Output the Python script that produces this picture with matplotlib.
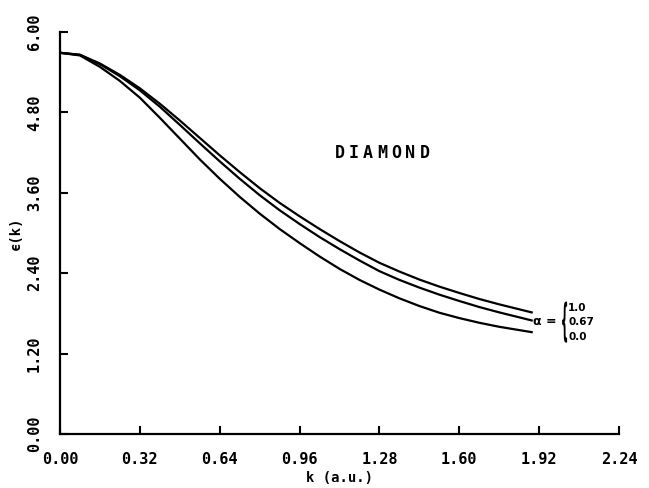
import matplotlib.pyplot as plt
import matplotlib.transforms as mtransforms
from matplotlib.textpath import TextPath
from matplotlib.patches import PathPatch
from matplotlib.font_manager import FontProperties

# k (a.u.) values where the curves were read
k = [0.00, 0.08, 0.16, 0.24, 0.32, 0.40, 0.48, 0.56, 0.64, 0.72, 0.80, 0.88,
     0.96, 1.04, 1.12, 1.20, 1.28, 1.36, 1.44, 1.52, 1.60, 1.68, 1.76, 1.89]

# epsilon(k) for alpha = 1.0, 0.67, 0.0
eps_a10 = [5.69, 5.66, 5.53, 5.36, 5.16, 4.93, 4.68, 4.42, 4.16, 3.91, 3.67, 3.45,
           3.25, 3.06, 2.88, 2.71, 2.555, 2.425, 2.305, 2.20, 2.105, 2.015, 1.935, 1.815]
eps_a067 = [5.69, 5.66, 5.52, 5.34, 5.13, 4.885, 4.615, 4.34, 4.07, 3.81, 3.565, 3.34,
            3.135, 2.94, 2.76, 2.59, 2.43, 2.30, 2.185, 2.08, 1.985, 1.895, 1.815, 1.695]
eps_a00 = [5.69, 5.65, 5.48, 5.27, 5.02, 4.72, 4.41, 4.10, 3.81, 3.54, 3.29, 3.06,
           2.85, 2.65, 2.465, 2.30, 2.155, 2.025, 1.91, 1.81, 1.73, 1.66, 1.60, 1.52]

alfas = ["1.0", "0.67", "0.0"]

xticks = [0.00, 0.32, 0.64, 0.96, 1.28, 1.60, 1.92, 2.24]
yticks = [0.00, 1.20, 2.40, 3.60, 4.80, 6.00]

plt.rcParams['font.family'] = 'DejaVu Sans Mono'
plt.rcParams['font.weight'] = 'bold'

fig = plt.figure(figsize=(6.49, 4.88), dpi=100)
ax = fig.add_axes([0.0924, 0.1107, 0.8614, 0.8237])

for serie in (eps_a10, eps_a067, eps_a00):
    ax.plot(k, serie, color='black', linewidth=1.6)

ax.set_xlim(0, 2.24)
ax.set_ylim(0, 6.0)
ax.set_xticks(xticks)
ax.set_yticks(yticks)
ax.set_xticklabels([f"{v:.2f}" for v in xticks])
ax.set_yticklabels([f"{v:.2f}" for v in yticks], rotation=90, va='center')

for lado in ('top', 'right'):
    ax.spines[lado].set_visible(False)
for lado in ('left', 'bottom'):
    ax.spines[lado].set_linewidth(1.6)

ax.tick_params(direction='in', length=6, width=1.5, labelsize=11, pad=13)

ax.set_xlabel("k (a.u.)", fontsize=10, fontweight='bold')
ax.xaxis.set_label_coords(0.5, -0.093)
ax.set_ylabel("\u03f5(k)", fontsize=10, fontweight='bold')
ax.yaxis.set_label_coords(-0.066, 0.5)

# rotulo espacado
for i, letra in enumerate("DIAMOND"):
    ax.annotate(letra, xy=(1.29, 4.19), xytext=((i - 3) * 10.2, 0),
                textcoords='offset points', ha='center', va='center',
                fontsize=12, fontweight='bold')

# legenda dos alfas: alpha = { 1.0 / 0.67 / 0.0
ax.text(1.895, 1.675, "\u03b1 =", fontsize=9, fontweight='bold',
        family='DejaVu Sans', ha='left', va='center')

# chave alta e estreita
chave = TextPath((0, 0), "{", size=10, prop=FontProperties(family='DejaVu Sans'))
ext = chave.get_extents()
cx, cy = (ext.x0 + ext.x1) / 2, (ext.y0 + ext.y1) / 2
trans = (mtransforms.Affine2D().translate(-cx, -cy)
         .scale(5.0 / ext.width, 41.0 / ext.height)
         + mtransforms.ScaledTranslation(2.022, 1.67, ax.transData))
ax.add_patch(PathPatch(chave, transform=trans, facecolor='black',
                       edgecolor='none', clip_on=False))

for a, yv in zip(alfas, [1.88, 1.67, 1.45]):
    ax.text(2.036, yv, a, fontsize=7.5, fontweight='bold',
            family='DejaVu Sans', ha='left', va='center')

fig.savefig("out.png", dpi=100)
